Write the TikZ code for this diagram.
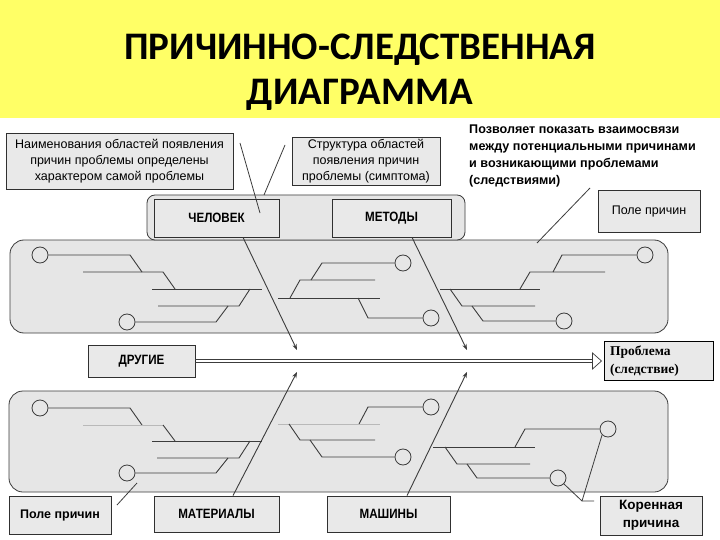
\documentclass[tikz,border=0pt]{standalone}
\usepackage{fontspec}
\setmainfont{Liberation Sans}
\newfontfamily\titlefont{Carlito}
\newfontfamily\serifont{Liberation Serif}
\newfontfamily\narrowfont[FakeStretch=0.86]{Liberation Sans}
\usetikzlibrary{arrows.meta}
\definecolor{ttlyellow}{RGB}{255,255,102}
\definecolor{panelgray}{RGB}{230,230,230}
\definecolor{boxgray}{RGB}{233,233,233}
\definecolor{ink}{RGB}{60,60,60}
\begin{document}
\begin{tikzpicture}[x=1pt,y=-1pt,
 panel/.style={draw=ink, fill=panelgray, line width=0.8pt, rounded corners=14pt},
 box/.style={draw=ink!80!black, fill=boxgray, line width=0.8pt, inner sep=0pt, align=center, font=\fontsize{12.5}{16}\selectfont},
 capbox/.style={box, font=\narrowfont\bfseries\fontsize{13.5}{16}\selectfont},
 bone/.style={draw=ink, line width=0.9pt},
 lightbone/.style={draw=gray!55, line width=0.8pt},
 knot/.style={circle, draw=ink, fill=panelgray, line width=0.8pt, minimum size=16pt, inner sep=0pt},
 callout/.style={draw=ink, line width=0.8pt},
 mainbone/.style={draw=ink, line width=0.9pt, -{Stealth[length=6pt,width=4.5pt]}},
 ttl/.style={anchor=base, font=\titlefont\bfseries\fontsize{39}{46}\selectfont}
]
\useasboundingbox (0,0) rectangle (720,540);
\fill[white] (0,0) rectangle (720,540);
\fill[ttlyellow] (0,0) rectangle (720,118);
\node[ttl] (t1) at (360,60) {ПРИЧИННО-СЛЕДСТВЕННАЯ};
\node[ttl] (t2) at (360,105) {ДИАГРАММА};

% panels
\draw[panel] (10,240) rectangle (668,333);
\draw[panel] (9,391) rectangle (668,492);
\draw[panel, rounded corners=8pt] (147,195) rectangle (465,240);

% top annotation boxes
\node[box, minimum width=227pt, minimum height=56pt] (b1) at (119.5,161)
 {Наименования областей появления\\причин проблемы определены\\характером самой проблемы};
\node[box, minimum width=148pt, minimum height=48pt] (b2) at (366,161)
 {Структура областей\\появления причин\\проблемы (симптома)};
\node[anchor=north west, inner sep=0pt, align=left, font=\bfseries\fontsize{12.6}{17}\selectfont] (note) at (469,125)
 {Позволяет показать взаимосвязи\\между потенциальными причинами\\и возникающими проблемами\\(следствиями)};
\node[box, minimum width=102pt, minimum height=42pt] (pt) at (649,211) {Поле причин};

\node[capbox, minimum width=125pt, minimum height=38pt] (chel) at (216.5,218) {ЧЕЛОВЕК};
\node[capbox, minimum width=119pt, minimum height=38pt] (met) at (391.5,218) {МЕТОДЫ};

% middle
\node[capbox, minimum width=107pt, minimum height=32pt] (drug) at (141.5,361) {ДРУГИЕ};
\node[box, draw=black, line width=1pt, minimum width=109pt, minimum height=39pt, text width=97pt, align=left,
 font=\serifont\bfseries\fontsize{13.5}{18}\selectfont] (prob) at (658.5,361) {Проблема\\(следствие)};

% bottom boxes
\node[box, font=\bfseries\fontsize{12.5}{16}\selectfont, minimum width=102pt, minimum height=38pt] (pb) at (60,515) {Поле причин};
\node[capbox, minimum width=125pt, minimum height=36pt] (mat) at (216.5,514) {МАТЕРИАЛЫ};
\node[capbox, minimum width=123pt, minimum height=36pt] (mash) at (388.5,514) {МАШИНЫ};
\node[box, font=\bfseries\fontsize{13.5}{18}\selectfont, minimum width=102pt, minimum height=39pt] (kr) at (651,515.5) {Коренная\\причина};

% ---- top panel bones
\node[knot] (A1) at (40,255) {};
\node[knot] (A2) at (127,322) {};
\draw[bone] (A1.east) -- (130,255) -- (142,272);
\draw[bone] (83,272) -- (163,272) -- (175,289);
\draw[bone] (152,289) -- (262,289);
\draw[bone] (158,306) -- (239,306) -- (250,289);
\draw[bone] (A2.east) -- (216,322) -- (228,306);

\node[knot] (B1) at (403,263) {};
\node[knot] (B2) at (431,318) {};
\draw[bone] (B1.west) -- (322,263) -- (311,280);
\draw[bone] (375,280) -- (300,280) -- (290,298);
\draw[bone] (278,298) -- (380,298);
\draw[bone] (358,298) -- (368,318) -- (B2.west);

\node[knot] (C1) at (645,255) {};
\node[knot] (C2) at (564,321) {};
\draw[bone] (C1.west) -- (562,255) -- (553,272);
\draw[bone] (605,272) -- (530,272) -- (520,289);
\draw[bone] (440,289) -- (540,289);
\draw[bone] (450,289) -- (462,306) -- (535,306);
\draw[bone] (472,306) -- (483,321) -- (C2.west);

% ---- bottom panel bones
\node[knot] (D1) at (40,408) {};
\node[knot] (D2) at (127,473) {};
\draw[bone] (D1.east) -- (130,408) -- (142,425);
\draw[lightbone] (83,425) -- (163,425);
\draw[bone] (163,425) -- (175,441);
\draw[bone] (152,441) -- (262,441);
\draw[bone] (157,458) -- (239,458) -- (250,441);
\draw[bone] (D2.east) -- (216,473) -- (228,458);

\node[knot] (E1) at (431,407) {};
\node[knot] (E2) at (403,457) {};
\draw[bone] (E1.west) -- (368,407) -- (359,424);
\draw[lightbone] (278,424) -- (380,424);
\draw[bone] (289,424) -- (300,440) -- (375,440);
\draw[bone] (310,440) -- (322,457) -- (E2.west);

\node[knot] (F1) at (608,429) {};
\node[knot] (F2) at (558,478) {};
\draw[bone] (433,447) -- (535,447);
\draw[bone] (515,447) -- (525,429) -- (F1.west);
\draw[bone] (445,447) -- (457,464) -- (530,464);
\draw[bone] (467,464) -- (477,478) -- (F2.west);

% ---- main bones
\coordinate (h1) at (297,350);
\coordinate (h2) at (467,350);
\coordinate (h3) at (297,372);
\coordinate (h4) at (467,372);
\draw[mainbone] ([xshift=26.5pt]chel.south) -- (h1);
\draw[mainbone] ([xshift=20.5pt]met.south) -- (h2);
\draw[mainbone] ([xshift=16.5pt]mat.north) -- (h3);
\draw[mainbone] ([xshift=18.5pt]mash.north) -- (h4);

% ---- spine (double line with open head)
\draw[ink, line width=0.7pt] ([yshift=1.6pt]drug.east) -- ([xshift=-10pt,yshift=1.6pt]prob.west);
\draw[ink, line width=0.7pt] ([yshift=-1.6pt]drug.east) -- ([xshift=-10pt,yshift=-1.6pt]prob.west);
\draw[ink, line width=0.7pt, fill=white] ([xshift=-11pt,yshift=8pt]prob.west) -- ([xshift=-2pt]prob.west) -- ([xshift=-11pt,yshift=-8pt]prob.west) -- cycle;

% ---- callouts
\coordinate (k1) at (240,143);
\coordinate (k1e) at (260,213);
\draw[callout] (k1) -- (k1e);
\coordinate (k2) at (285,145);
\coordinate (k2e) at (264,195);
\draw[callout] (k2) -- (k2e);
\coordinate (k3) at (590,188);
\coordinate (k3e) at (537,243);
\draw[callout] (k3) -- (k3e);
\coordinate (k4) at (117,505);
\coordinate (k4e) at (137,483);
\draw[callout] (k4) -- (k4e);
\coordinate (kj) at (582,501);
\coordinate (kjr) at (594,501);
\draw[callout] (F2.south east) -- (kj) -- (kjr);
\draw[callout] (kj) -- (F1.south west);
\end{tikzpicture}
\end{document}
